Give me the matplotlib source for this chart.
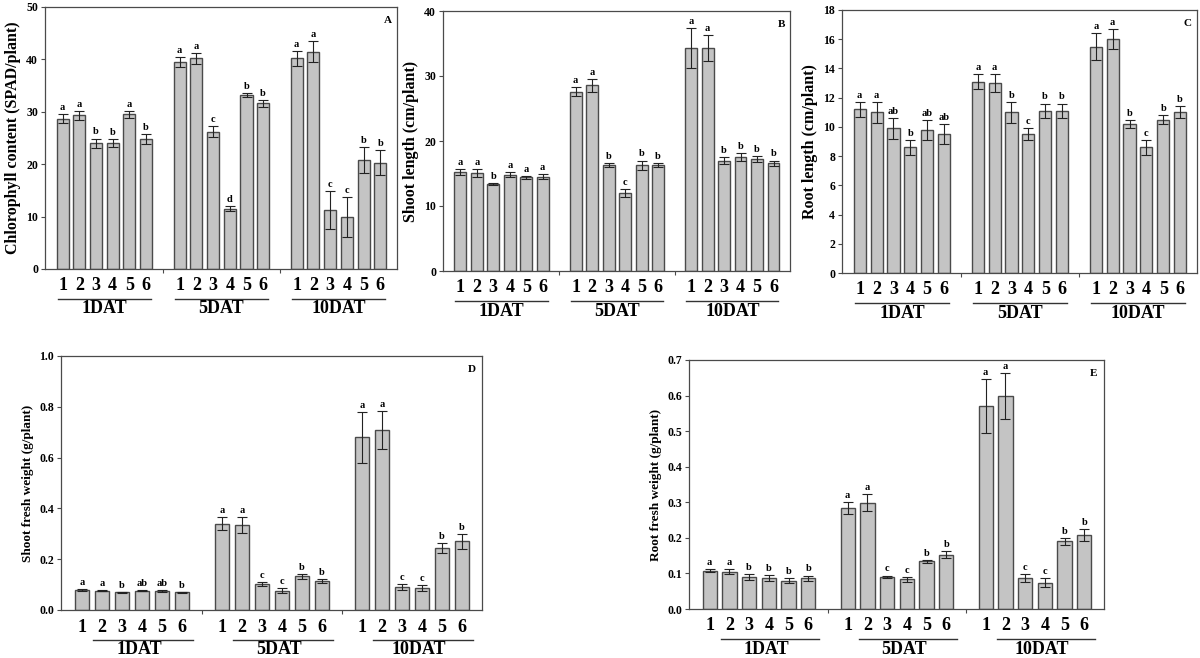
import matplotlib

matplotlib.use("Agg")
import matplotlib.pyplot as plt

GROUPS = ["1DAT", "5DAT", "10DAT"]
TREATMENTS = ["1", "2", "3", "4", "5", "6"]

# A - chlorophyll content (SPAD/plant)
chl_mean = [28.7, 29.3, 24.0, 24.0, 29.5, 24.8,
            39.5, 40.2, 26.2, 11.5, 33.2, 31.6,
            40.2, 41.5, 11.3, 9.9, 20.8, 20.3]
chl_err = [0.8, 0.9, 0.9, 0.8, 0.7, 1.0,
           1.0, 1.0, 1.0, 0.5, 0.4, 0.7,
           1.4, 2.0, 3.6, 3.8, 2.4, 2.4]
chl_sig = ["a", "a", "b", "b", "a", "b",
           "a", "a", "c", "d", "b", "b",
           "a", "a", "c", "c", "b", "b"]

# B - shoot length (cm/plant)
shoot_mean = [15.2, 15.1, 13.4, 14.8, 14.4, 14.5,
              27.6, 28.6, 16.3, 12.0, 16.3, 16.3,
              34.3, 34.3, 17.0, 17.5, 17.2, 16.6]
shoot_err = [0.5, 0.6, 0.2, 0.4, 0.2, 0.4,
             0.7, 1.0, 0.3, 0.6, 0.7, 0.3,
             3.1, 2.0, 0.5, 0.6, 0.5, 0.4]
shoot_sig = ["a", "a", "b", "a", "a", "a",
             "a", "a", "b", "c", "b", "b",
             "a", "a", "b", "b", "b", "b"]

# C - root length (cm/plant)
root_mean = [11.2, 11.0, 9.9, 8.6, 9.8, 9.5,
             13.1, 13.0, 11.0, 9.5, 11.1, 11.1,
             15.5, 16.0, 10.2, 8.6, 10.5, 11.0]
root_err = [0.5, 0.7, 0.7, 0.5, 0.7, 0.7,
            0.5, 0.6, 0.7, 0.4, 0.5, 0.5,
            0.9, 0.7, 0.3, 0.5, 0.3, 0.4]
root_sig = ["a", "a", "ab", "b", "ab", "ab",
            "a", "a", "b", "c", "b", "b",
            "a", "a", "b", "c", "b", "b"]

# D - shoot fresh weight (g/plant)
sfw_mean = [0.078, 0.076, 0.070, 0.076, 0.075, 0.070,
            0.340, 0.335, 0.102, 0.075, 0.132, 0.115,
            0.680, 0.708, 0.090, 0.085, 0.245, 0.270]
sfw_err = [0.003, 0.003, 0.002, 0.003, 0.003, 0.002,
           0.025, 0.030, 0.008, 0.010, 0.010, 0.008,
           0.100, 0.075, 0.012, 0.012, 0.020, 0.030]
sfw_sig = ["a", "a", "b", "ab", "ab", "b",
           "a", "a", "c", "c", "b", "b",
           "a", "a", "c", "c", "b", "b"]

# E - root fresh weight (g/plant)
rfw_mean = [0.108, 0.105, 0.090, 0.087, 0.079, 0.086,
            0.284, 0.299, 0.090, 0.083, 0.134, 0.152,
            0.570, 0.598, 0.087, 0.074, 0.190, 0.208]
rfw_err = [0.005, 0.008, 0.008, 0.008, 0.007, 0.008,
           0.017, 0.023, 0.004, 0.006, 0.004, 0.010,
           0.076, 0.065, 0.010, 0.013, 0.010, 0.016]
rfw_sig = ["a", "a", "b", "b", "b", "b",
           "a", "a", "c", "c", "b", "b",
           "a", "a", "c", "c", "b", "b"]

plt.rcParams["font.family"] = ["Liberation Serif", "DejaVu Serif"]
plt.rcParams["font.weight"] = "bold"

W, H = 1200, 658
fig = plt.figure(figsize=(12, 6.58), dpi=100)


def rect(left, top, right, bottom):
    return [left / W, 1 - bottom / H, (right - left) / W, (bottom - top) / H]


panels = [
    dict(mean=chl_mean, err=chl_err, sig=chl_sig, tag="A",
         box=rect(45, 7, 397, 269), ylim=50, step=10, fmt="{:.0f}",
         ylabel="Chlorophyll content (SPAD/plant)", ylsize=11.5,
         line=(-0.3, 5.3), lab=2.5),
    dict(mean=shoot_mean, err=shoot_err, sig=shoot_sig, tag="B",
         box=rect(443, 11, 790, 271), ylim=40, step=10, fmt="{:.0f}",
         ylabel="Shoot length (cm/plant)", ylsize=11.5,
         line=(-0.3, 5.3), lab=2.5),
    dict(mean=root_mean, err=root_err, sig=root_sig, tag="C",
         box=rect(842, 10, 1197, 273), ylim=18, step=2, fmt="{:.0f}",
         ylabel="Root length (cm/plant)", ylsize=11.5,
         line=(-0.3, 5.3), lab=2.5),
    dict(mean=sfw_mean, err=sfw_err, sig=sfw_sig, tag="D",
         box=rect(61, 356, 482, 610), ylim=1.0, step=0.2, fmt="{:.1f}",
         ylabel="Shoot fresh weight (g/plant)", ylsize=9.5,
         line=(0.55, 5.55), lab=2.85),
    dict(mean=rfw_mean, err=rfw_err, sig=rfw_sig, tag="E",
         box=rect(689, 360, 1104, 609), ylim=0.7, step=0.1, fmt="{:.1f}",
         ylabel="Root fresh weight (g/plant)", ylsize=9.5,
         line=(0.55, 5.55), lab=2.85),
]

edge = "#4a4a4a"

for p in panels:
    ax = fig.add_axes(p["box"])
    xs = [g * 7 + i for g in range(len(GROUPS)) for i in range(len(TREATMENTS))]
    ax.bar(xs, p["mean"], width=0.72, color="#c4c4c4", edgecolor=edge,
           linewidth=1.0, zorder=2)
    ax.errorbar(xs, p["mean"], yerr=p["err"], fmt="none", ecolor="#222222",
                elinewidth=0.8, capsize=3.5, capthick=0.8, zorder=3)
    for x, m, e, s in zip(xs, p["mean"], p["err"], p["sig"]):
        ax.annotate(s, xy=(x, m + e), xytext=(0, 1.5), textcoords="offset points",
                    ha="center", va="bottom", fontsize=7.5, fontweight="bold")

    ax.set_xlim(-1.05, 20)
    ax.set_ylim(0, p["ylim"])
    n = int(round(p["ylim"] / p["step"]))
    yt = [k * p["step"] for k in range(n + 1)]
    ax.set_yticks(yt)
    ax.set_yticklabels([p["fmt"].format(v) for v in yt], fontsize=8.5,
                       fontweight="bold")
    ax.set_xticks([6, 13])
    ax.set_xticklabels([])
    ax.tick_params(axis="both", direction="out", length=3, width=0.8,
                   color=edge, pad=2)
    for sp in ax.spines.values():
        sp.set_color(edge)
        sp.set_linewidth(0.9)
    ax.set_ylabel(p["ylabel"], fontsize=p["ylsize"], fontweight="bold",
                  labelpad=4)

    ax.text(0.985, 0.965, p["tag"], transform=ax.transAxes, ha="right",
            va="top", fontsize=8, fontweight="bold")

    trans = ax.get_xaxis_transform()
    ax_h = p["box"][3] * H

    def below(px):
        return -px / ax_h

    for g, name in enumerate(GROUPS):
        for i, t in enumerate(TREATMENTS):
            ax.text(g * 7 + i, below(17), t, transform=trans, ha="center",
                    va="center", fontsize=13, fontweight="bold", clip_on=False)
        x0, x1 = p["line"]
        ax.plot([g * 7 + x0, g * 7 + x1], [below(30), below(30)],
                transform=trans, color="#333333", lw=1.0, clip_on=False)
        ax.text(g * 7 + p["lab"], below(40), name, transform=trans,
                ha="center", va="center", fontsize=13, fontweight="bold",
                clip_on=False)

fig.savefig("out.png", dpi=100)
